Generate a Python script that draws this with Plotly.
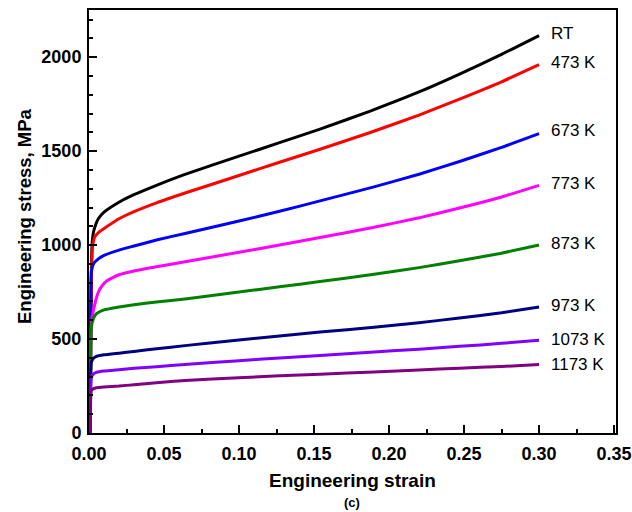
import plotly.graph_objects as go

labels = ["RT", "473 K", "673 K", "773 K", "873 K", "973 K", "1073 K", "1173 K"]
colors = ["#000000", "#FF0000", "#0000FF", "#FF00FF", "#008000", "#000080", "#8000FF", "#800080"]

strain_rt = [0.0008, 0.0012, 0.0016, 0.002, 0.003, 0.0045, 0.0062, 0.01, 0.02, 0.03, 0.045, 0.064, 0.1, 0.127, 0.154, 0.187, 0.22, 0.247, 0.275, 0.30]
stress_rt = [0, 500, 850, 1000, 1070, 1110, 1140, 1175, 1228, 1268, 1318, 1376, 1473, 1545, 1617, 1712, 1815, 1910, 2015, 2115]

strain_473 = [0.0008, 0.0012, 0.0018, 0.0025, 0.004, 0.007, 0.0107, 0.02, 0.03, 0.045, 0.064, 0.1, 0.127, 0.154, 0.187, 0.22, 0.247, 0.275, 0.30]
stress_473 = [0, 600, 900, 1000, 1045, 1072, 1092, 1140, 1178, 1225, 1277, 1370, 1441, 1510, 1598, 1692, 1777, 1869, 1960]

strain_673 = [0.0008, 0.0012, 0.0016, 0.003, 0.006, 0.01, 0.02, 0.03, 0.045, 0.064, 0.1, 0.127, 0.154, 0.19, 0.22, 0.247, 0.275, 0.30]
stress_673 = [0, 700, 860, 900, 925, 945, 973, 995, 1027, 1062, 1128, 1180, 1235, 1310, 1377, 1445, 1520, 1593]

strain_773 = [0.0008, 0.0012, 0.002, 0.004, 0.006, 0.0084, 0.012, 0.02, 0.03, 0.045, 0.064, 0.1, 0.127, 0.154, 0.19, 0.22, 0.247, 0.275, 0.30]
stress_773 = [0, 500, 610, 690, 745, 780, 810, 842, 862, 885, 911, 962, 1000, 1040, 1095, 1145, 1197, 1256, 1318]

strain_873 = [0.0008, 0.0012, 0.0016, 0.003, 0.005, 0.01, 0.02, 0.03, 0.045, 0.064, 0.1, 0.127, 0.154, 0.19, 0.22, 0.247, 0.275, 0.30]
stress_873 = [0, 450, 564, 610, 635, 655, 671, 683, 697, 713, 750, 778, 806, 845, 880, 917, 957, 1000]

strain_973 = [0.0008, 0.0012, 0.0016, 0.003, 0.005, 0.01, 0.02, 0.03, 0.045, 0.064, 0.1, 0.127, 0.154, 0.19, 0.22, 0.247, 0.275, 0.30]
stress_973 = [0, 320, 378, 398, 408, 416, 425, 434, 448, 465, 495, 516, 537, 563, 587, 612, 640, 670]

strain_1073 = [0.0008, 0.0012, 0.0016, 0.003, 0.005, 0.01, 0.02, 0.03, 0.045, 0.064, 0.1, 0.127, 0.154, 0.19, 0.22, 0.247, 0.275, 0.30]
stress_1073 = [0, 260, 298, 315, 323, 330, 337, 344, 353, 364, 385, 399, 413, 431, 446, 461, 477, 493]

strain_1173 = [0.0008, 0.0012, 0.0016, 0.003, 0.005, 0.01, 0.02, 0.03, 0.045, 0.064, 0.1, 0.127, 0.154, 0.19, 0.22, 0.247, 0.275, 0.30]
stress_1173 = [0, 200, 227, 236, 241, 245, 250, 257, 268, 279, 294, 304, 313, 325, 335, 345, 354, 364]

strains = [strain_rt, strain_473, strain_673, strain_773, strain_873, strain_973, strain_1073, strain_1173]
stresses = [stress_rt, stress_473, stress_673, stress_773, stress_873, stress_973, stress_1073, stress_1173]
label_y = [2126, 1971, 1612, 1327, 1009, 679, 497, 364]
label_x = 0.3067

FONT = "Arial, Liberation Sans, sans-serif"

fig = go.Figure()
for xs, ys, c, name in zip(strains, stresses, colors, labels):
    fig.add_trace(go.Scatter(x=xs, y=ys, mode="lines",
                             line=dict(color=c, width=3, shape="spline", smoothing=0.5),
                             name=name, showlegend=False))

for ly, name in zip(label_y, labels):
    fig.add_annotation(x=label_x, y=ly, text=name, showarrow=False, xanchor="left", yanchor="middle",
                       font=dict(family=FONT, size=17, color="black"))

# axis titles and panel label
fig.add_annotation(x=0.5, y=0, xref="x domain", yref="paper", xanchor="center",
                   yanchor="middle", yshift=-47, text="<b>Engineering strain</b>", showarrow=False,
                   font=dict(family=FONT, size=19, color="black"))
fig.add_annotation(x=0, y=0.513, xref="paper", yref="paper", xanchor="center", yanchor="middle",
                   xshift=-65, textangle=-90, text="<b>Engineering stress, MPa</b>", showarrow=False,
                   font=dict(family=FONT, size=18.5, color="black"))
fig.add_annotation(x=(352 - 89) / 527, y=0, xref="paper", yref="paper", xanchor="center",
                   yanchor="middle", yshift=-69, text="<b>(c)</b>", showarrow=False,
                   font=dict(family=FONT, size=13, color="black"))

axis_font = dict(family=FONT, size=18, color="black")
fig.update_layout(
    width=632, height=512,
    margin=dict(l=89, r=16, t=10, b=79),
    plot_bgcolor="white", paper_bgcolor="white",
    xaxis=dict(range=[0, 0.3513], dtick=0.05, tickformat=".2f", ticks="inside", ticklen=8, tickwidth=2,
               tickcolor="black", showline=True, linecolor="black", linewidth=2, mirror=True,
               showgrid=False, zeroline=False, tickfont=axis_font, automargin=False, ticklabelstandoff=3,
               minor=dict(dtick=0.025, ticks="inside", ticklen=4, tickwidth=1.5, tickcolor="black")),
    yaxis=dict(range=[0, 2251], dtick=500, ticks="inside", ticklen=8, tickwidth=2,
               tickcolor="black", showline=True, linecolor="black", linewidth=2, mirror=True,
               showgrid=False, zeroline=False, tickfont=axis_font, ticklabelstandoff=2, automargin=False,
               minor=dict(dtick=100, ticks="inside", ticklen=4, tickwidth=1.5, tickcolor="black")),
)
fig.update_xaxes(tickprefix="<b>", ticksuffix="</b>")
fig.update_yaxes(tickprefix="<b>", ticksuffix="</b>")
fig.write_html("out.html")
